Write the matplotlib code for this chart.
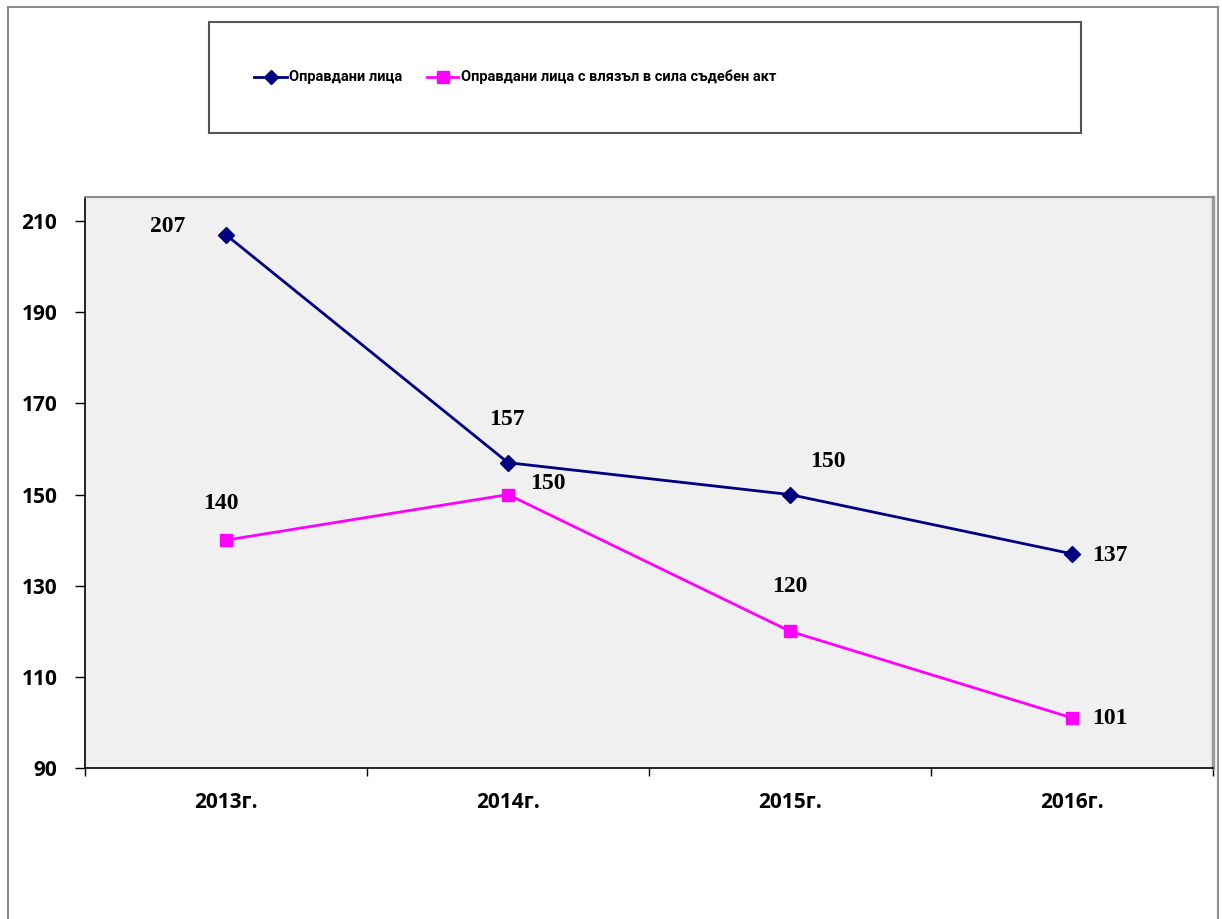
import matplotlib
matplotlib.use("Agg")
import matplotlib.pyplot as plt
from matplotlib import font_manager
from matplotlib.lines import Line2D
from matplotlib.patches import Rectangle

# data
years = ["2013г.", "2014г.", "2015г.", "2016г."]
acquitted = [207, 157, 150, 137]
acquitted_final = [140, 150, 120, 101]
series_names = ["Оправдани лица", "Оправдани лица с влязъл в сила съдебен акт"]
y_ticks = [90, 110, 130, 150, 170, 190, 210]

# label offsets in pixels (dx, dy) from each point
blue_offsets = [(-58, 8), (-1, 43), (38, 33), (38, -2)]
pink_offsets = [(-5, 37), (40, 11), (0, 45), (38, -1)]

W, H = 1222, 919
fig = plt.figure(figsize=(W / 100, H / 100), dpi=100)

def fx(px):
    return px / W

def fy(py):
    return 1 - py / H

# outer chart frame
frame_col = "#8c8c8c"
fig.add_artist(Line2D([fx(8), fx(8)], [fy(7), 0], color=frame_col, lw=1.5))
fig.add_artist(Line2D([fx(8), fx(1218)], [fy(7), fy(7)], color=frame_col, lw=1.5))
fig.add_artist(Line2D([fx(1218), fx(1218)], [fy(7), 0], color=frame_col, lw=1.5))

# plot area
ax = fig.add_axes([fx(85), fy(768), fx(1213) - fx(85), fy(197) - fy(768)])
ax.set_facecolor("#f0f0f0")
x = list(range(len(years)))

blue = "#000080"
pink = "#ff00ff"
ax.plot(x, acquitted, color=blue, lw=2.0, marker="D", markersize=8, zorder=3)
ax.plot(x, acquitted_final, color=pink, lw=2.0, marker="s", markersize=8, zorder=3)

label_font = dict(family="Liberation Serif", fontweight="bold", fontsize=17)
for xi, v, (dx, dy) in zip(x, acquitted, blue_offsets):
    ax.annotate(str(v), (xi, v), xytext=(dx, dy), textcoords="offset pixels",
                ha="center", va="center", **label_font)
for xi, v, (dx, dy) in zip(x, acquitted_final, pink_offsets):
    ax.annotate(str(v), (xi, v), xytext=(dx, dy), textcoords="offset pixels",
                ha="center", va="center", **label_font)

ax.set_xlim(-0.5, len(years) - 0.5)
ax.set_ylim(90, 215.3)
ax.set_yticks(y_ticks)
ax.set_yticklabels([str(t) for t in y_ticks])
ax.set_xticks([i - 0.5 for i in range(len(years) + 1)])
ax.set_xticklabels([])
ax.set_xticks(x, minor=True)
ax.set_xticklabels(years, minor=True)

for lab in ax.get_yticklabels() + ax.get_xticklabels(minor=True):
    lab.set_fontfamily("Open Sans")
    lab.set_fontweight("bold")
    lab.set_fontsize(15)

ax.tick_params(axis="y", direction="out", length=7, width=1, pad=13, colors="black")
ax.tick_params(axis="x", which="major", direction="out", length=6, width=1)
ax.tick_params(axis="x", which="minor", length=0, pad=17)

ax.spines["left"].set_color("black")
ax.spines["bottom"].set_color("black")
ax.spines["left"].set_linewidth(1.2)
ax.spines["bottom"].set_linewidth(1.2)
ax.spines["top"].set_color("#8c8c8c")
ax.spines["top"].set_linewidth(1.5)
ax.spines["right"].set_color("#9a9a9a")
ax.spines["right"].set_linewidth(2.5)

# legend box
fig.add_artist(Rectangle((fx(209), fy(133)), fx(1081) - fx(209), fy(22) - fy(133),
                         facecolor="white", edgecolor="#555555", lw=1.5))
names = {f.name for f in font_manager.fontManager.ttflist}
if "Liberation Sans Narrow" in names:
    legend_font = dict(family="Liberation Sans Narrow", fontweight="bold", fontsize=12)
else:
    legend_font = dict(family="Roboto", fontweight="bold", fontsize=10.5)
ly = fy(77)
fig.add_artist(Line2D([fx(254), fx(287)], [ly, ly], color=blue, lw=2.0))
fig.add_artist(Line2D([fx(270.5)], [ly], color=blue, marker="D", markersize=7, lw=0))
fig.text(fx(289), ly, series_names[0], ha="left", va="center", **legend_font)
fig.add_artist(Line2D([fx(427), fx(458)], [ly, ly], color=pink, lw=2.0))
fig.add_artist(Line2D([fx(442.5)], [ly], color=pink, marker="s", markersize=8, lw=0))
fig.text(fx(461), ly, series_names[1], ha="left", va="center", **legend_font)

fig.savefig("out.png", dpi=100)
